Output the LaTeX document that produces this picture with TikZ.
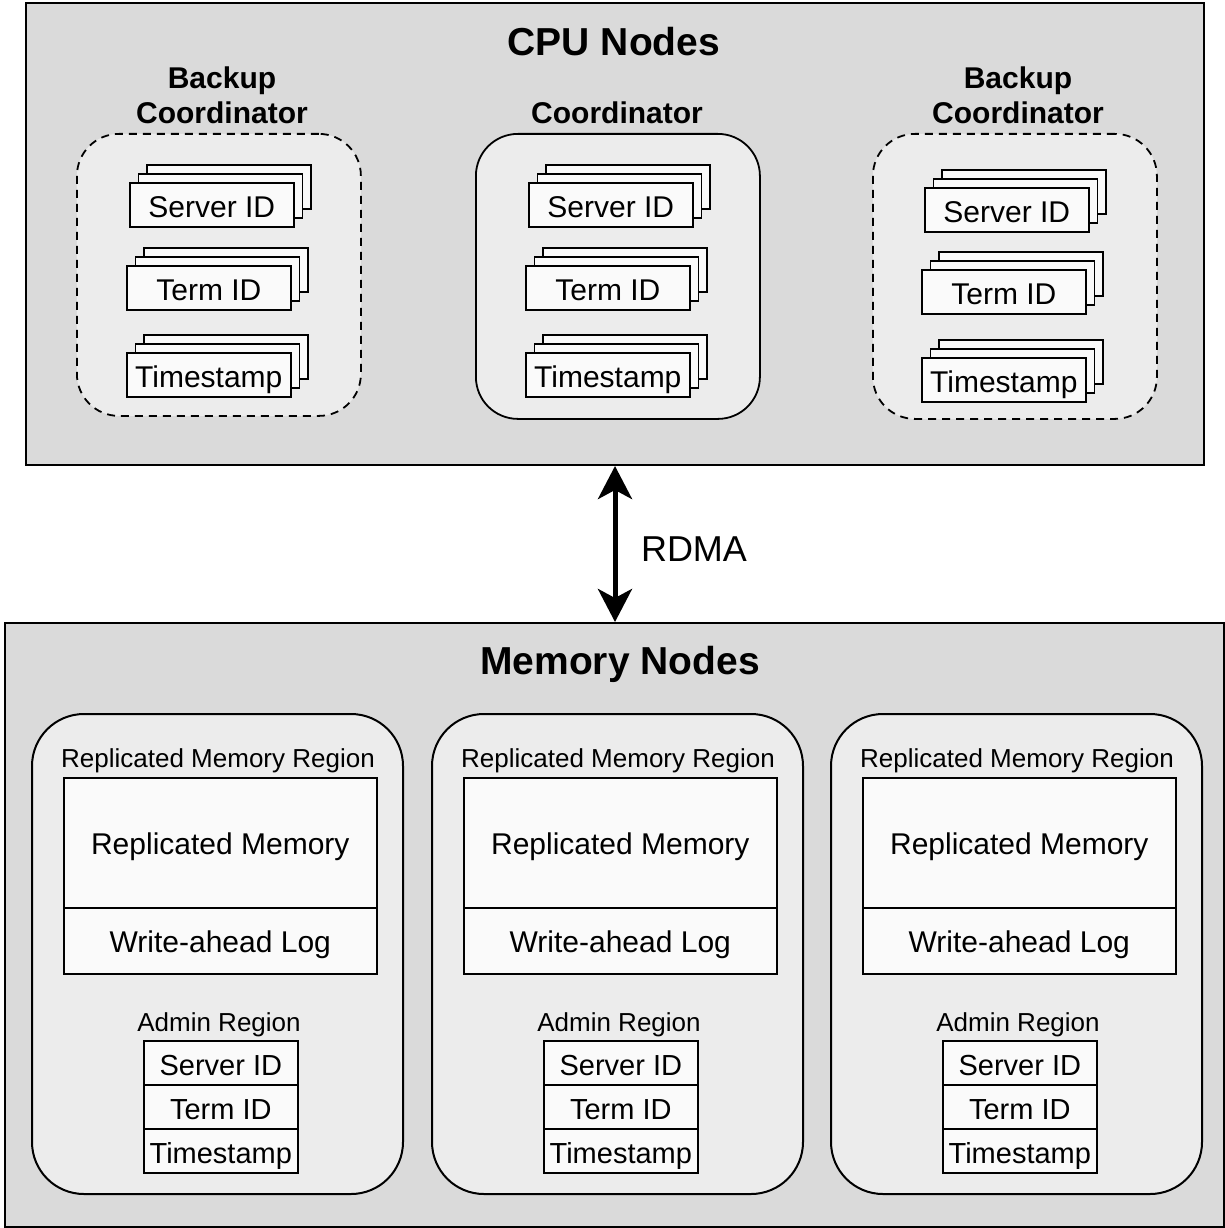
\documentclass[tikz,border=0pt]{standalone}
\usepackage{fontspec}
\setmainfont{Liberation Sans}
\usetikzlibrary{arrows.meta}
\definecolor{outerg}{HTML}{DADADA}
\definecolor{innerg}{HTML}{ECECEC}
\definecolor{boxw}{HTML}{FAFAFA}
\newcommand{\fsz}[1]{\fontsize{#1}{#1}\selectfont}
\tikzset{
  container/.style={draw=black, line width=2pt, fill=outerg, anchor=north west, inner sep=0pt},
  coordbox/.style={draw=black, line width=1.8pt, fill=innerg, rounded corners=42pt, anchor=north west, inner sep=0pt, minimum width=284pt, minimum height=284pt},
  coorddash/.style={coordbox, dash pattern=on 8pt off 6pt},
  stackbox/.style={draw=black, line width=1.6pt, fill=boxw, anchor=north west, inner sep=0pt, minimum width=164pt, minimum height=44pt},
  stacktext/.style={font=\fsz{30}, text height=24.5pt, text depth=0pt},
  memnodebox/.style={draw=black, line width=2pt, fill=innerg, rounded corners=52pt, anchor=north west, inner sep=0pt, minimum width=371pt, minimum height=480pt},
  membox/.style={draw=black, line width=1.6pt, fill=boxw, anchor=north west, inner sep=0pt, minimum width=313pt, font=\fsz{30}, text height=24pt, text depth=0pt},
  adminbox/.style={draw=black, line width=1.6pt, fill=boxw, anchor=north west, inner sep=0pt, minimum width=154pt, minimum height=44pt, font=\fsz{29}, text height=25pt, text depth=0pt},
  title/.style={font=\bfseries\fsz{39}, text height=27.9pt, text depth=0pt},
  sublabel/.style={font=\bfseries\fsz{30}, text height=21.5pt, text depth=0pt},
  smalllabel/.style={font=\fsz{26}, text height=18.6pt, text depth=0pt},
  rdmalabel/.style={font=\fsz{36}, text height=25.8pt, text depth=0pt},
}
% name, x, y (top-left of front box), text
\newcommand{\cpustack}[4]{%
  \node[stackbox] (#1c) at (#2+17.4,#3-18) {};
  \node[stackbox] (#1b) at (#2+8.7,#3-9) {};
  \node[stackbox, stacktext] (#1) at (#2,#3) {#4};
}
% name prefix, x shift
\newcommand{\memnode}[2]{%
  \begin{scope}[xshift=#2pt]
    \node[memnodebox] (#1box) at (31,713) {};
    \node[smalllabel] (#1rmrlabel) at (218,758) {Replicated Memory Region};
    \node[membox, minimum height=130pt] (#1rm) at (63,777) {Replicated Memory};
    \node[membox, minimum height=66pt] (#1wal) at (63,907) {Write-ahead Log};
    \node[smalllabel] (#1adminlabel) at (219,1022) {Admin Region};
    \node[adminbox] (#1sid) at (143,1040) {Server ID};
    \node[adminbox] (#1tid) at (143,1084) {Term ID};
    \node[adminbox] (#1ts) at (143,1128) {Timestamp};
  \end{scope}
}
\begin{document}
\begin{tikzpicture}[x=1pt, y=-1pt]
\useasboundingbox (0,0) rectangle (1225,1228);
% CPU nodes
\node[container, minimum width=1178pt, minimum height=462pt] (cpu) at (25,2) {};
\node[title] (cputitle) at (614,42) {CPU Nodes};
\node[sublabel] (bc1a) at (222,78) {Backup};
\node[sublabel] (bc1b) at (222,113) {Coordinator};
\node[sublabel] (coordlabel) at (617,113) {Coordinator};
\node[sublabel] (bc2a) at (1018,78) {Backup};
\node[sublabel] (bc2b) at (1018,113) {Coordinator};
\node[coorddash, minimum height=282pt] (bcleft) at (76,133) {};
\node[coordbox, minimum height=285pt] (coord) at (475,133) {};
\node[coorddash, minimum height=285pt] (bcright) at (872,133) {};
\cpustack{lsid}{129}{182}{Server ID}
\cpustack{ltid}{126}{265}{Term ID}
\cpustack{lts}{126}{352}{Timestamp}
\cpustack{csid}{528}{182}{Server ID}
\cpustack{ctid}{525}{265}{Term ID}
\cpustack{cts}{525}{352}{Timestamp}
\cpustack{rsid}{924}{187}{Server ID}
\cpustack{rtid}{921}{269}{Term ID}
\cpustack{rts}{921}{357}{Timestamp}
% Memory nodes
\node[container, minimum width=1219pt, minimum height=604pt] (mem) at (4,622) {};
\node[title] (memtitle) at (620,661) {Memory Nodes};
\memnode{m1}{0}
\memnode{m2}{400}
\memnode{m3}{799}
% RDMA arrow
\coordinate (atop) at (cpu.south -| 615,0);
\coordinate (abot) at (mem.north -| 615,0);
\draw[line width=5pt, {Stealth[length=33pt,width=34pt,inset=9pt]}-{Stealth[length=33pt,width=34pt,inset=9pt]}] (atop) -- (abot);
\node[rdmalabel] (rdma) at (694,549) {RDMA};
\end{tikzpicture}
\end{document}
